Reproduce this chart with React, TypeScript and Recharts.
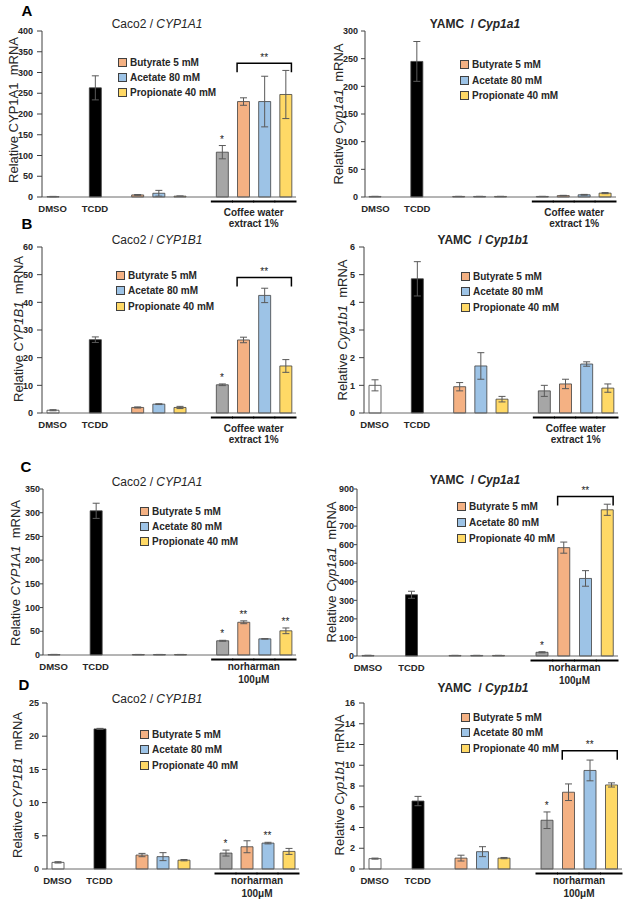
import React from 'react';
import { ComposedChart, Bar, Cell, ErrorBar, XAxis, YAxis, Scatter, ReferenceLine } from 'recharts';

const FONT = '"Liberation Sans", Arial, Helvetica, sans-serif';
const INK = '#262626';
const ORANGE = '#F4B183';
const BLUE = '#9DC3E6';
const YELLOW = '#FFD966';
const GRAY = '#A6A6A6';

// 12 slots on the x axis, three of them empty spacers
const slots = ['DMSO', 'gap1', 'TCDD', 'gap2', 'Bu', 'Ac', 'Pr', 'gap3', 'Tr', 'TrBu', 'TrAc', 'TrPr'];
const slotLabels = ['DMSO', '', 'TCDD', '', '', '', '', '', '', '', '', ''];
const slotColors = ['#FFFFFF', '', '#000000', '', ORANGE, BLUE, YELLOW, '', GRAY, ORANGE, BLUE, YELLOW];

const legendLabels = ['Butyrate 5 mM', 'Acetate 80 mM', 'Propionate 40 mM'];
const legendColors = [ORANGE, BLUE, YELLOW];
const coffeeText = ['Coffee water', 'extract 1%'];
const norharmanText = ['norharman', '100μM'];

// A left: Caco2 / CYP1A1, coffee extract
const aLeftValues = [1, null, 263, null, 5, 9, 2, null, 108, 230, 230, 247];
const aLeftErr = [0.5, null, 29, null, 1, 7, 0.5, null, 16, 9, 61, 58];
const aLeftSig = ['', '', '', '', '', '', '', '', '*', '', '', ''];
const aLeftTicks = [0, 50, 100, 150, 200, 250, 300, 350, 400];
const aLeftBracket = 322;

// A right: YAMC / Cyp1a1, coffee extract
const aRightValues = [1, null, 245, null, 1, 1, 1, null, 1, 2.5, 4, 7];
const aRightErr = [0.2, null, 36, null, 0.2, 0.2, 0.2, null, 0.2, 0.5, 0.7, 1];
const aRightSig = ['', '', '', '', '', '', '', '', '', '', '', ''];
const aRightTicks = [0, 50, 100, 150, 200, 250, 300];

// B left: Caco2 / CYP1B1, coffee extract
const bLeftValues = [1, null, 26.5, null, 2, 3.2, 2, null, 10.2, 26.4, 42.5, 17];
const bLeftErr = [0.2, null, 1, null, 0.2, 0.15, 0.4, null, 0.3, 1, 2.6, 2.3];
const bLeftSig = ['', '', '', '', '', '', '', '', '*', '', '', ''];
const bLeftTicks = [0, 10, 20, 30, 40, 50, 60];
const bLeftBracket = 49;

// B right: YAMC / Cyp1b1, coffee extract
const bRightValues = [1, null, 4.85, null, 0.95, 1.7, 0.5, null, 0.8, 1.05, 1.77, 0.9];
const bRightErr = [0.2, null, 0.62, null, 0.15, 0.48, 0.1, null, 0.2, 0.17, 0.08, 0.15];
const bRightSig = ['', '', '', '', '', '', '', '', '', '', '', ''];
const bRightTicks = [0, 1, 2, 3, 4, 5, 6];

// C left: Caco2 / CYP1A1, norharman
const cLeftValues = [1, null, 304, null, 1, 1, 1, null, 30, 69, 34, 51];
const cLeftErr = [0.3, null, 16, null, 0.2, 0.2, 0.2, null, 1, 3, 0.5, 6];
const cLeftSig = ['', '', '', '', '', '', '', '', '*', '**', '', '**'];
const cLeftTicks = [0, 50, 100, 150, 200, 250, 300, 350];

// C right: YAMC / Cyp1a1, norharman
const cRightValues = [3, null, 330, null, 3, 3, 3, null, 20, 584, 418, 788];
const cRightErr = [1, null, 19, null, 0.5, 0.5, 0.5, null, 3, 30, 42, 30];
const cRightSig = ['', '', '', '', '', '', '', '', '*', '', '', ''];
const cRightTicks = [0, 100, 200, 300, 400, 500, 600, 700, 800, 900];
const cRightBracket = 860;

// D left: Caco2 / CYP1B1, norharman
const dLeftValues = [1, null, 21.1, null, 2.1, 1.86, 1.33, null, 2.4, 3.35, 3.9, 2.65];
const dLeftErr = [0.1, null, 0.08, null, 0.25, 0.6, 0.1, null, 0.45, 0.9, 0.12, 0.45];
const dLeftSig = ['', '', '', '', '', '', '', '', '*', '', '**', ''];
const dLeftTicks = [0, 5, 10, 15, 20, 25];

// D right: YAMC / Cyp1b1, norharman
const dRightValues = [1, null, 6.55, null, 1.05, 1.67, 1.05, null, 4.7, 7.4, 9.5, 8.1];
const dRightErr = [0.05, null, 0.45, null, 0.28, 0.48, 0.06, null, 0.8, 0.8, 1.0, 0.2];
const dRightSig = ['', '', '', '', '', '', '', '', '*', '', '', ''];
const dRightTicks = [0, 2, 4, 6, 8, 10, 12, 14, 16];
const dRightBracket = 11.4;

const panels = [
  {
    id: 'aL', box: { l: 42, r: 296, t: 31, b: 197 }, yTick: [5, 4],
    values: aLeftValues, errs: aLeftErr, sigs: aLeftSig, ticks: aLeftTicks, bracket: aLeftBracket, group: coffeeText,
    cell: 'Caco2 / ', gene: 'CYP1A1', bold: false, title: [157, 24],
    ylab: [13, 110], ylabItalic: false, legend: [118, 62, 77, 92], letter: ['A', 27, 10],
  },
  {
    id: 'aR', box: { l: 365, r: 616, t: 31, b: 197 }, yTick: [4, 3],
    values: aRightValues, errs: aRightErr, sigs: aRightSig, ticks: aRightTicks, bracket: null, group: coffeeText,
    cell: 'YAMC  / ', gene: 'Cyp1a1', bold: true, title: [475, 24],
    ylab: [338, 114], ylabItalic: true, legend: [460, 64, 80, 95],
  },
  {
    id: 'bL', box: { l: 42, r: 296, t: 247, b: 413 }, yTick: [5, 4],
    values: bLeftValues, errs: bLeftErr, sigs: bLeftSig, ticks: bLeftTicks, bracket: bLeftBracket, group: coffeeText,
    cell: 'Caco2 / ', gene: 'CYP1B1', bold: false, title: [157, 240],
    ylab: [18, 329], ylabItalic: true, legend: [116, 275, 290, 306], letter: ['B', 27, 223],
  },
  {
    id: 'bR', box: { l: 364, r: 618, t: 247, b: 413 }, yTick: [5, 4],
    values: bRightValues, errs: bRightErr, sigs: bRightSig, ticks: bRightTicks, bracket: null, group: coffeeText,
    cell: 'YAMC  / ', gene: 'Cyp1b1', bold: true, title: [483, 240],
    ylab: [342, 330], ylabItalic: true, legend: [461, 276, 291, 307],
  },
  {
    id: 'cL', box: { l: 43, r: 296, t: 489, b: 655 }, yTick: [3, 0],
    values: cLeftValues, errs: cLeftErr, sigs: cLeftSig, ticks: cLeftTicks, bracket: null, group: norharmanText,
    cell: 'Caco2 / ', gene: 'CYP1A1', bold: false, title: [157, 482],
    ylab: [15, 573], ylabItalic: true, legend: [140, 511, 526, 541], letter: ['C', 26, 466],
  },
  {
    id: 'cR', box: { l: 357, r: 618, t: 489, b: 656 }, yTick: [3, 0],
    values: cRightValues, errs: cRightErr, sigs: cRightSig, ticks: cRightTicks, bracket: cRightBracket, group: norharmanText,
    cell: 'YAMC  / ', gene: 'Cyp1a1', bold: true, title: [475, 480],
    ylab: [331, 572], ylabItalic: true, legend: [457, 506, 522, 538],
  },
  {
    id: 'dL', box: { l: 47, r: 299, t: 703, b: 869 }, yTick: [5, 3],
    values: dLeftValues, errs: dLeftErr, sigs: dLeftSig, ticks: dLeftTicks, bracket: null, group: norharmanText,
    cell: 'Caco2 / ', gene: 'CYP1B1', bold: false, title: [157, 699],
    ylab: [17, 785], ylabItalic: true, legend: [140, 734, 749, 765], letter: ['D', 24, 684],
  },
  {
    id: 'dR', box: { l: 364, r: 622, t: 703, b: 869 }, yTick: [5, 4],
    values: dRightValues, errs: dRightErr, sigs: dRightSig, ticks: dRightTicks, bracket: dRightBracket, group: norharmanText,
    cell: 'YAMC  / ', gene: 'Cyp1b1', bold: true, title: [483, 688],
    ylab: [339, 785], ylabItalic: true, legend: [461, 717, 732, 748],
  },
];

const SigShape = (props: any) => {
  const { cx, cy, payload } = props;
  if (!payload || !payload.sig || !Number.isFinite(cy)) return <g />;
  return (
    <text x={cx} y={cy - 3} textAnchor="middle" fontSize={10} fill="#1a1a1a" fontFamily={FONT}>
      {payload.sig}
    </text>
  );
};

const BracketShape = (props: any) => {
  const { x1, y1, x2 } = props;
  const l = x1 - 6;
  const r = x2 + 6;
  return (
    <g>
      <path d={`M${l},${y1 + 9}V${y1}H${r}V${y1 + 9}`} fill="none" stroke="#000" strokeWidth={1.5} />
      <text x={(l + r) / 2} y={y1 - 2.5} textAnchor="middle" fontSize={10} fill="#1a1a1a" fontFamily={FONT}>
        **
      </text>
    </g>
  );
};

function Panel({ p }: { p: any }) {
  const data = slots.map((key, i) => ({
    key,
    value: p.values[i],
    err: p.errs[i],
    sig: p.sigs[i],
    sigTop: p.sigs[i] ? p.values[i] + p.errs[i] : null,
  }));
  const left = p.box.l - 40;
  const top = p.box.t - 10;
  const width = p.box.r - left + 4;
  const height = p.box.b - top + 40;
  const half = (p.box.r - p.box.l) / slots.length / 2;
  const lines = p.group === norharmanText ? [14.5, 28] : [18.5, 29.5];

  const renderTick = (props: any) => {
    const { x, y, index } = props;
    const label = slotLabels[index];
    return (
      <g>
        {label && (
          <text x={x} y={y + 15} textAnchor="middle" fontSize={9.5} fontWeight="bold" fill={INK} fontFamily={FONT}>
            {label}
          </text>
        )}
        {index >= 8 && (
          <line x1={x - half - 0.5} x2={x + half + 0.5} y1={y + 4.5} y2={y + 4.5} stroke="#000" strokeWidth={2} />
        )}
        {index === 9 &&
          p.group.map((t: string, k: number) => (
            <text key={t} x={x + half} y={y + lines[k]} textAnchor="middle" fontSize={10} fontWeight="bold" fill={INK} fontFamily={FONT}>
              {t}
            </text>
          ))}
      </g>
    );
  };

  return (
    <>
      <div style={{ position: 'absolute', left, top }}>
        <ComposedChart width={width} height={height} data={data} margin={{ top: 10, right: 4, bottom: 0, left: 0 }}>
          <XAxis
            dataKey="key"
            interval={0}
            height={40}
            tickSize={0}
            tickMargin={0}
            tickLine={false}
            axisLine={{ stroke: '#6B6B6B' }}
            tick={renderTick}
          />
          <YAxis
            width={40}
            domain={[0, p.ticks[p.ticks.length - 1]]}
            ticks={p.ticks}
            interval={0}
            tickSize={p.yTick[0]}
            tickMargin={p.yTick[1]}
            axisLine={{ stroke: '#404040' }}
            tickLine={{ stroke: '#404040' }}
            tick={{ fontSize: 9, fontWeight: 'bold', fill: INK, fontFamily: FONT }}
          />
          <Bar dataKey="value" barSize={12} isAnimationActive={false}>
            {data.map((d, i) => (
              <Cell key={d.key} fill={slotColors[i] || 'none'} stroke="#404040" strokeWidth={0.8} />
            ))}
            <ErrorBar dataKey="err" width={3.5} stroke="#595959" strokeWidth={1} />
          </Bar>
          <Scatter dataKey="sigTop" isAnimationActive={false} shape={SigShape} />
          {p.bracket != null && (
            <ReferenceLine
              segment={[
                { x: slots[9], y: p.bracket },
                { x: slots[11], y: p.bracket },
              ]}
              shape={BracketShape}
            />
          )}
        </ComposedChart>
      </div>

      <div
        style={{
          position: 'absolute',
          left: p.title[0],
          top: p.title[1],
          transform: 'translate(-50%, -50%)',
          fontSize: 12,
          lineHeight: 1,
          fontWeight: p.bold ? 'bold' : 'normal',
          color: INK,
          whiteSpace: 'pre',
        }}
      >
        {p.cell}
        <i>{p.gene}</i>
      </div>

      <div
        style={{
          position: 'absolute',
          left: p.ylab[0],
          top: p.ylab[1],
          transform: 'translate(-50%, -50%) rotate(-90deg)',
          fontSize: 13,
          lineHeight: 1,
          color: INK,
          whiteSpace: 'pre',
        }}
      >
        {'Relative '}
        {p.ylabItalic ? <i>{p.gene}</i> : p.gene}
        {'  mRNA'}
      </div>

      {legendLabels.map((t, k) => (
        <div
          key={t}
          style={{
            position: 'absolute',
            left: p.legend[0],
            top: p.legend[k + 1] - 5,
            height: 10,
            display: 'flex',
            alignItems: 'center',
            fontSize: 10,
            fontWeight: 'bold',
            color: INK,
            whiteSpace: 'nowrap',
          }}
        >
          <span
            style={{
              width: 7,
              height: 7,
              background: legendColors[k],
              border: '1px solid #404040',
              marginRight: 3,
              display: 'inline-block',
            }}
          />
          {t}
        </div>
      ))}

      {p.letter && (
        <div
          style={{
            position: 'absolute',
            left: p.letter[1],
            top: p.letter[2],
            transform: 'translate(-50%, -50%)',
            fontSize: 15,
            lineHeight: 1,
            fontWeight: 'bold',
            color: '#000',
          }}
        >
          {p.letter[0]}
        </div>
      )}
    </>
  );
}

export default function App() {
  return (
    <div style={{ position: 'relative', width: 626, height: 900, background: '#fff', fontFamily: FONT, overflow: 'hidden' }}>
      <style>{'body { margin: 0; }'}</style>
      {panels.map(p => (
        <Panel key={p.id} p={p} />
      ))}
    </div>
  );
}
